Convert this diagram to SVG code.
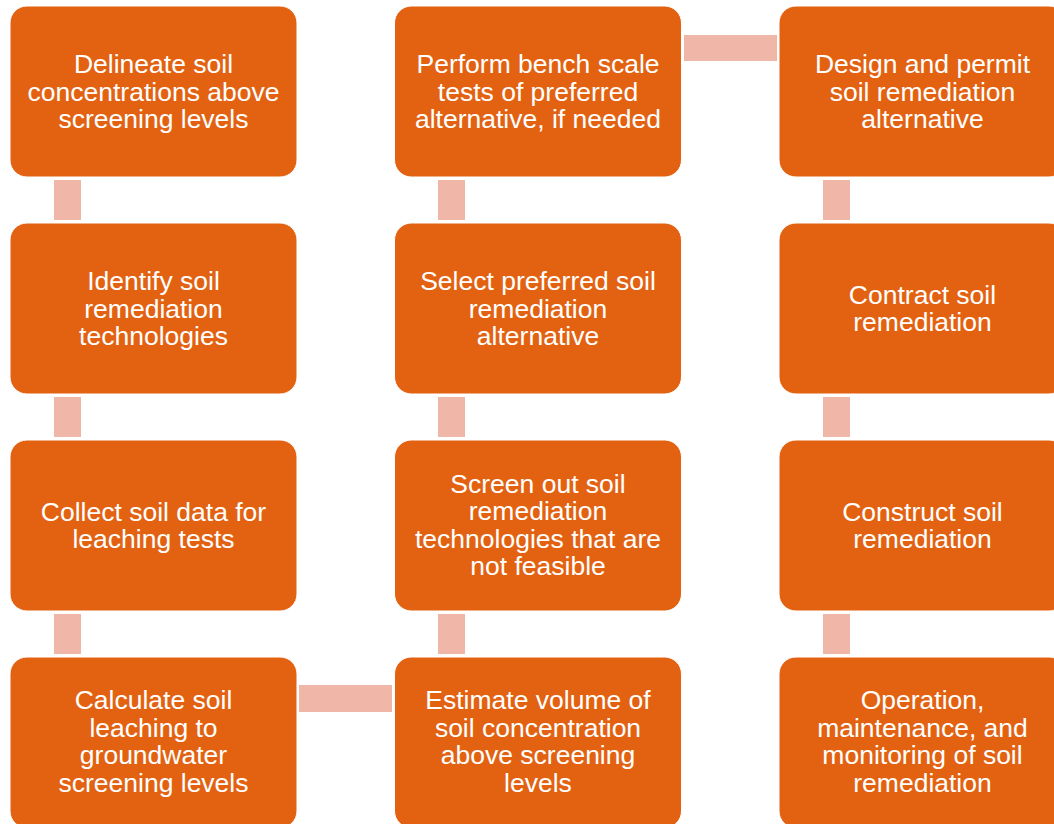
<svg xmlns="http://www.w3.org/2000/svg" width="1054" height="824" viewBox="0 0 1054 824">
  <style>
    .box { fill: #E36211; stroke: #FFFFFF; stroke-width: 1; }
    .link { fill: #F0B7A9; }
    .lbl { font-family: "Liberation Sans", Arial, sans-serif; font-size: 26.5px; fill: #FFFFFF; text-anchor: middle; }
  </style>
  <rect width="1054" height="824" fill="#FFFFFF"/>

  <!-- connectors (process flow: down column 1, across, up column 2, across, down column 3) -->
  <g id="connectors">
    <rect class="link" x="54" y="180" width="27" height="40"/>
    <rect class="link" x="54" y="397" width="27" height="40"/>
    <rect class="link" x="54" y="614" width="27" height="40"/>
    <rect class="link" x="299" y="685" width="93" height="27"/>
    <rect class="link" x="438" y="614" width="27" height="40"/>
    <rect class="link" x="438" y="397" width="27" height="40"/>
    <rect class="link" x="438" y="180" width="27" height="40"/>
    <rect class="link" x="684" y="35" width="93" height="26"/>
    <rect class="link" x="823" y="180" width="27" height="40"/>
    <rect class="link" x="823" y="397" width="27" height="40"/>
    <rect class="link" x="823" y="614" width="27" height="40"/>
  </g>

  <!-- column 1 -->
  <g id="delineate">
    <rect class="box" x="10" y="6" width="287" height="171" rx="17"/>
    <text class="lbl" x="153.5"><tspan x="153.5" y="73">Delineate soil</tspan><tspan x="153.5" y="100.6">concentrations above</tspan><tspan x="153.5" y="128.2">screening levels</tspan></text>
  </g>
  <g id="identify">
    <rect class="box" x="10" y="223" width="287" height="171" rx="17"/>
    <text class="lbl" x="153.5"><tspan x="153.5" y="290">Identify soil</tspan><tspan x="153.5" y="317.6">remediation</tspan><tspan x="153.5" y="345.2">technologies</tspan></text>
  </g>
  <g id="collect">
    <rect class="box" x="10" y="440" width="287" height="171" rx="17"/>
    <text class="lbl" x="153.5"><tspan x="153.5" y="520.7">Collect soil data for</tspan><tspan x="153.5" y="548.3">leaching tests</tspan></text>
  </g>
  <g id="calculate">
    <rect class="box" x="10" y="657" width="287" height="171" rx="17"/>
    <text class="lbl" x="153.5"><tspan x="153.5" y="709">Calculate soil</tspan><tspan x="153.5" y="736.6">leaching to</tspan><tspan x="153.5" y="764.2">groundwater</tspan><tspan x="153.5" y="791.8">screening levels</tspan></text>
  </g>

  <!-- column 2 -->
  <g id="bench-tests">
    <rect class="box" x="394.5" y="6" width="287" height="171" rx="17"/>
    <text class="lbl" x="538"><tspan x="538" y="73">Perform bench scale</tspan><tspan x="538" y="100.6">tests of preferred</tspan><tspan x="538" y="128.2">alternative, if needed</tspan></text>
  </g>
  <g id="select">
    <rect class="box" x="394.5" y="223" width="287" height="171" rx="17"/>
    <text class="lbl" x="538"><tspan x="538" y="290">Select preferred soil</tspan><tspan x="538" y="317.6">remediation</tspan><tspan x="538" y="345.2">alternative</tspan></text>
  </g>
  <g id="screen-out">
    <rect class="box" x="394.5" y="440" width="287" height="171" rx="17"/>
    <text class="lbl" x="538"><tspan x="538" y="492.5">Screen out soil</tspan><tspan x="538" y="520.1">remediation</tspan><tspan x="538" y="547.7">technologies that are</tspan><tspan x="538" y="575.3">not feasible</tspan></text>
  </g>
  <g id="estimate">
    <rect class="box" x="394.5" y="657" width="287" height="171" rx="17"/>
    <text class="lbl" x="538"><tspan x="538" y="709">Estimate volume of</tspan><tspan x="538" y="736.6">soil concentration</tspan><tspan x="538" y="764.2">above screening</tspan><tspan x="538" y="791.8">levels</tspan></text>
  </g>

  <!-- column 3 -->
  <g id="design-permit">
    <rect class="box" x="779" y="6" width="287" height="171" rx="17"/>
    <text class="lbl" x="922.5"><tspan x="922.5" y="73">Design and permit</tspan><tspan x="922.5" y="100.6">soil remediation</tspan><tspan x="922.5" y="128.2">alternative</tspan></text>
  </g>
  <g id="contract">
    <rect class="box" x="779" y="223" width="287" height="171" rx="17"/>
    <text class="lbl" x="922.5"><tspan x="922.5" y="303.7">Contract soil</tspan><tspan x="922.5" y="331.3">remediation</tspan></text>
  </g>
  <g id="construct">
    <rect class="box" x="779" y="440" width="287" height="171" rx="17"/>
    <text class="lbl" x="922.5"><tspan x="922.5" y="520.7">Construct soil</tspan><tspan x="922.5" y="548.3">remediation</tspan></text>
  </g>
  <g id="operation">
    <rect class="box" x="779" y="657" width="287" height="171" rx="17"/>
    <text class="lbl" x="922.5"><tspan x="922.5" y="709">Operation,</tspan><tspan x="922.5" y="736.6">maintenance, and</tspan><tspan x="922.5" y="764.2">monitoring of soil</tspan><tspan x="922.5" y="791.8">remediation</tspan></text>
  </g>
</svg>
